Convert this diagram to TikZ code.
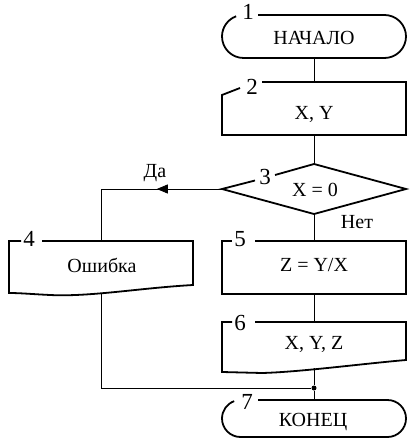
\documentclass[tikz,border=0pt]{standalone}
\usepackage{fontspec}
\setmainfont{Liberation Serif}
\usetikzlibrary{arrows.meta,calc}
\begin{document}
\begin{tikzpicture}[x=1pt,y=1pt,
  outline/.style={line width=1.8pt, line join=miter},
  conn/.style={line width=0.9pt},
  blk/.style={draw=none, inner sep=0pt, minimum width=184pt},
  txt/.style={font=\fontsize{20}{20}\selectfont, inner sep=0pt},
  num/.style={font=\fontsize{23}{23}\selectfont, inner sep=0pt}]
\useasboundingbox (0,0) rectangle (409,-443);

% invisible block nodes (geometry)
\node[blk, minimum height=43pt] (b1) at (314,-36.5) {};
\node[blk, minimum height=53pt] (b2) at (314,-108.5) {};
\node[blk, minimum height=50pt] (d3) at (314,-189) {};
\node[blk, minimum height=52pt] (b4) at (101,-267) {};
\node[blk, minimum height=53pt] (b5) at (314,-267.5) {};
\node[blk, minimum height=46pt] (b6) at (314,-345) {};
\node[blk, minimum height=37pt] (b7) at (314,-418.5) {};
\node[circle, fill, inner sep=0pt, minimum size=5pt] (j) at (314,-388) {};

% outlines
\draw[outline] (258,-15) -- (384.5,-15) arc(90:-90:21.5) -- (243.5,-58) arc(270:110:21.5);
\draw[outline] (262,-82) -- (406,-82) -- (406,-135) -- (222,-135) -- (222,-95) -- (240,-88);
\draw[outline] (275,-175) -- (314,-164) -- (406,-189) -- (314,-214) -- (222,-189) -- (255,-180.5);
\draw[outline] (42,-241) -- (193,-241) -- (193,-285) .. controls (140,-288) and (90,-297) .. (50,-295) .. controls (30,-294) and (20,-293) .. (9,-293) -- (9,-241) -- (21,-241);
\draw[outline] (255,-241) -- (406,-241) -- (406,-294) -- (222,-294) -- (222,-241) -- (232,-241);
\draw[outline] (255,-322) -- (406,-322) -- (406,-360) .. controls (360,-364) and (300,-372) .. (262,-373) -- (222,-372) -- (222,-322) -- (232,-322);
\draw[outline] (258,-400) -- (387.5,-400) arc(90:-90:18.5) -- (240.5,-437) arc(270:110:18.5);

% connectors
\draw[conn] (b1.south) -- (b2.north);
\draw[conn] (b2.south) -- (d3.north);
\draw[conn] (d3.south) -- (b5.north);
\draw[conn] (b5.south) -- (b6.north);
\draw[conn] (b6.south) -- (j) -- (b7.north);
\draw[conn] (d3.west) -| (b4.north);
\draw[conn, -{Triangle[length=11pt,width=9pt]}] (d3.west) -- ++(-65,0);
\draw[conn] (b4.south) |- (j);

% texts
\node[txt] (t1) at (314,-37.5) {НАЧАЛО};
\node[txt] (t2) at (314,-114) {X, Y};
\node[txt] (t3) at (315,-190) {X = 0};
\node[txt] (t4) at (102,-265) {Ошибка};
\node[txt] (t5) at (314,-265) {Z = Y/X};
\node[txt] (t6) at (314,-344) {X, Y, Z};
\node[txt] (t7) at (313,-422) {КОНЕЦ};
\node[txt] (da) at (155,-173) {Да};
\node[txt] (net) at (357,-222) {Нет};

% numbers
\node[num] (n1) at (248,-12) {1};
\node[num] (n2) at (252,-87) {2};
\node[num] (n3) at (265,-177) {3};
\node[num] (n4) at (29,-239) {4};
\node[num] (n5) at (240,-239) {5};
\node[num] (n6) at (240,-323) {6};
\node[num] (n7) at (247,-402) {7};
\end{tikzpicture}
\end{document}
